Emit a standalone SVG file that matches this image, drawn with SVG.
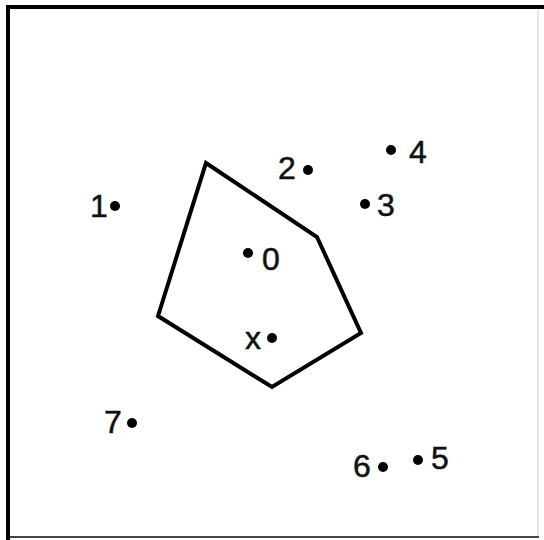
<svg xmlns="http://www.w3.org/2000/svg" width="544" height="540" viewBox="0 0 544 540">
<style>
.lbl{font-family:"Liberation Sans",Arial,sans-serif;font-size:32px;fill:#111;stroke:#111;stroke-width:0.5;text-anchor:middle}
.pt{fill:#000}
</style>
<rect x="0" y="0" width="544" height="540" fill="#fff"/>
<g id="frame">
<line x1="538" y1="9" x2="538" y2="537" stroke="#ccc" stroke-width="1"/>
<line x1="10" y1="537" x2="539" y2="537" stroke="#444" stroke-width="2"/>
<line x1="6" y1="7" x2="544" y2="7" stroke="#000" stroke-width="4"/>
<line x1="8" y1="5" x2="8" y2="540" stroke="#000" stroke-width="4"/>
</g>
<g id="connectors">
<polygon points="206,163 317,237 361,333 272,387 158,316" fill="none" stroke="#000" stroke-width="4" stroke-linejoin="miter"/>
</g>
<g id="p0"><circle class="pt" cx="248" cy="253" r="5"/><text class="lbl" x="271" y="270">0</text></g>
<g id="p1"><circle class="pt" cx="115" cy="206" r="5"/><text class="lbl" x="99" y="217">1</text></g>
<g id="p2"><circle class="pt" cx="308" cy="170" r="5"/><text class="lbl" x="287" y="179">2</text></g>
<g id="p3"><circle class="pt" cx="365" cy="204" r="5"/><text class="lbl" x="386" y="216">3</text></g>
<g id="p4"><circle class="pt" cx="391" cy="150" r="5"/><text class="lbl" x="418" y="163">4</text></g>
<g id="p5"><circle class="pt" cx="418" cy="460" r="5"/><text class="lbl" x="440" y="469">5</text></g>
<g id="p6"><circle class="pt" cx="383" cy="467" r="5"/><text class="lbl" x="362" y="477">6</text></g>
<g id="p7"><circle class="pt" cx="132" cy="423" r="5"/><text class="lbl" x="113" y="433">7</text></g>
<g id="px"><circle class="pt" cx="272" cy="338" r="5"/><text class="lbl" x="253" y="349">x</text></g>
</svg>
